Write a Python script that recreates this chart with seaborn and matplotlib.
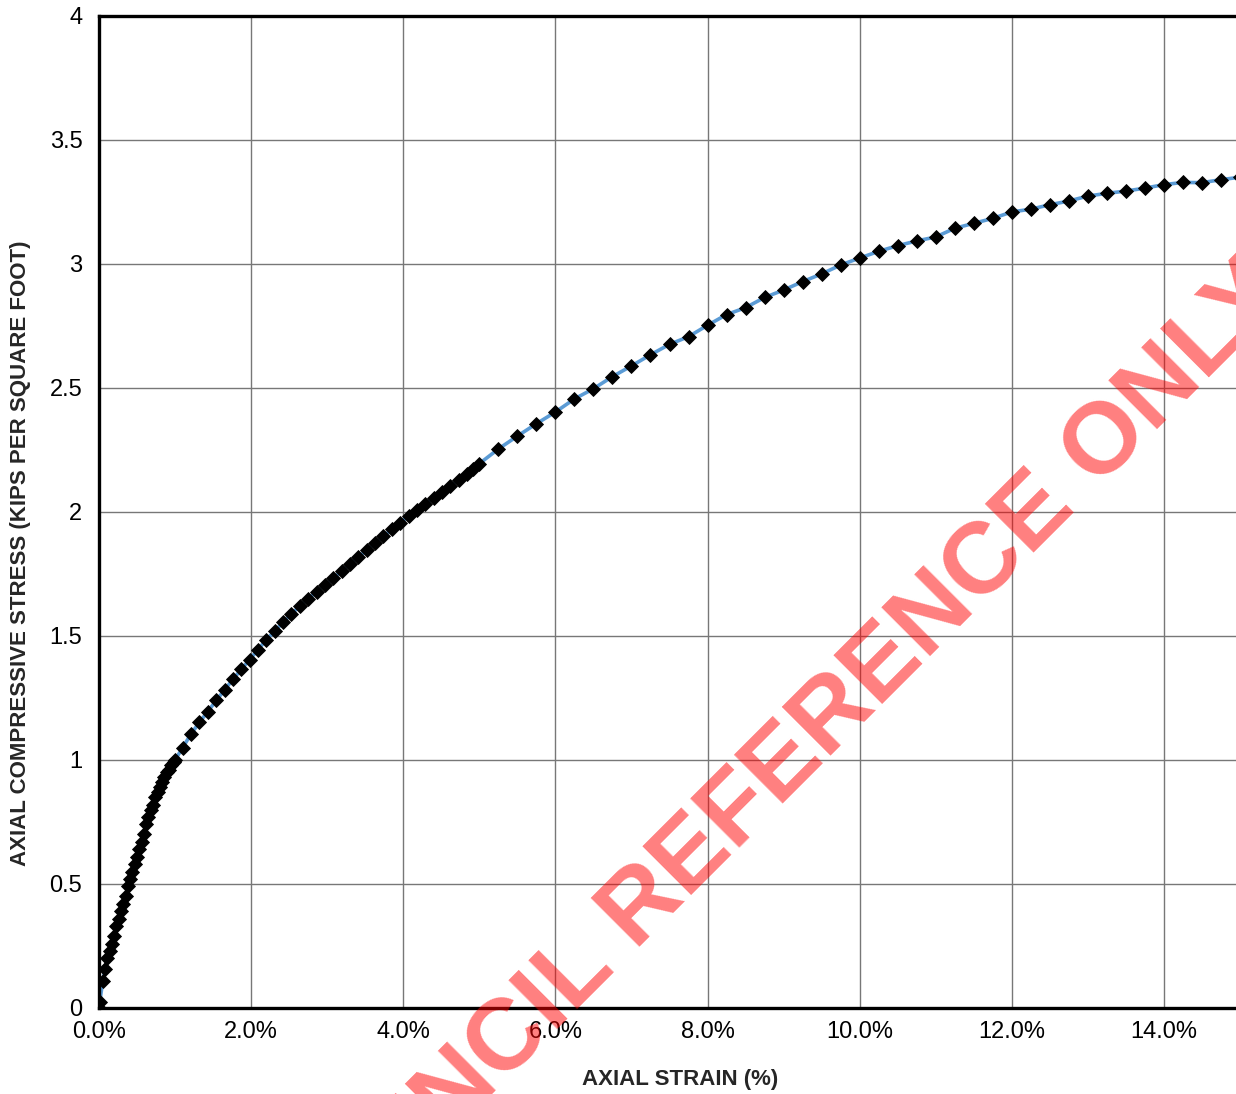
import numpy as np
import pandas as pd
import matplotlib
matplotlib.use("Agg")
import matplotlib.pyplot as plt
import seaborn as sns
from matplotlib.ticker import MultipleLocator, FuncFormatter

# =====================
# DATA
# =====================
strain_pct = [
    0.00, 0.01, 0.05, 0.08, 0.11, 0.14, 0.17, 0.20, 0.23, 0.26, 0.29, 0.32,
    0.35, 0.38, 0.41, 0.44, 0.47, 0.50, 0.53, 0.56, 0.59, 0.62, 0.65, 0.68,
    0.71, 0.74, 0.77, 0.80, 0.83, 0.86, 0.89, 0.92, 0.95, 0.98, 1.00,
    1.10, 1.21, 1.32, 1.43, 1.54, 1.65, 1.76, 1.87, 1.98, 2.09, 2.20, 2.31,
    2.42, 2.53, 2.64, 2.75, 2.86, 2.97, 3.08, 3.19, 3.30, 3.41, 3.52, 3.63,
    3.74, 3.85, 3.96, 4.07, 4.18, 4.29, 4.40, 4.51, 4.62, 4.73, 4.84, 4.92,
    5.00, 5.25, 5.50, 5.75, 6.00, 6.25, 6.50, 6.75, 7.00, 7.25, 7.50, 7.75,
    8.00, 8.25, 8.50, 8.75, 9.00, 9.25, 9.50, 9.75, 10.00, 10.25, 10.50,
    10.75, 11.00, 11.25, 11.50, 11.75, 12.00, 12.25, 12.50, 12.75, 13.00,
    13.25, 13.50, 13.75, 14.00, 14.25, 14.50, 14.75, 15.00,
]
stress_ksf = [
    0.000, 0.025, 0.110, 0.157, 0.200, 0.230, 0.260, 0.290, 0.330, 0.360,
    0.390, 0.420, 0.450, 0.490, 0.520, 0.550, 0.580, 0.610, 0.640, 0.670,
    0.700, 0.740, 0.770, 0.800, 0.820, 0.850, 0.870, 0.890, 0.910, 0.930,
    0.950, 0.960, 0.980, 0.990, 1.000,
    1.050, 1.105, 1.152, 1.195, 1.240, 1.282, 1.325, 1.365, 1.405, 1.445,
    1.485, 1.520, 1.555, 1.590, 1.620, 1.650, 1.678, 1.705, 1.733, 1.762,
    1.790, 1.818, 1.846, 1.874, 1.902, 1.930, 1.957, 1.983, 2.008, 2.033,
    2.057, 2.081, 2.105, 2.128, 2.152, 2.172, 2.195,
    2.254, 2.306, 2.356, 2.403, 2.456, 2.497, 2.546, 2.589, 2.634, 2.676,
    2.707, 2.753, 2.796, 2.824, 2.865, 2.895, 2.929, 2.960, 2.996, 3.024,
    3.051, 3.074, 3.093, 3.109, 3.144, 3.164, 3.184, 3.210, 3.221, 3.239,
    3.254, 3.274, 3.285, 3.294, 3.306, 3.320, 3.329, 3.328, 3.340, 3.350,
]

x_ticks = [0, 2, 4, 6, 8, 10, 12, 14]
y_ticks = [0, 0.5, 1, 1.5, 2, 2.5, 3, 3.5, 4]
y_tick_labels = ["0", "0.5", "1", "1.5", "2", "2.5", "3", "3.5", "4"]

df = pd.DataFrame({"strain": strain_pct, "stress": stress_ksf})

# =====================
# STYLE
# =====================
sns.set_style("white")
plt.rcParams["font.family"] = ["Liberation Sans", "DejaVu Sans"]

fig = plt.figure(figsize=(12.36, 10.94), dpi=100)
ax = fig.add_axes([99 / 1236, 86 / 1094, 1141 / 1236, 992 / 1094])

sns.lineplot(
    data=df, x="strain", y="stress", ax=ax,
    color="#5b9bd5", linewidth=2.6, estimator=None, sort=False,
    marker="D", markersize=7.0, markerfacecolor="black",
    markeredgecolor="black", markeredgewidth=0.6,
)

ax.set_xlim(0, 15)
ax.set_ylim(0, 4)
ax.set_xticks(x_ticks)
ax.xaxis.set_major_formatter(FuncFormatter(lambda v, p: f"{v:.1f}%"))
ax.xaxis.set_minor_locator(MultipleLocator(0.4))
ax.set_yticks(y_ticks)
ax.set_yticklabels(y_tick_labels)
ax.yaxis.set_minor_locator(MultipleLocator(0.1))

ax.grid(True, which="major", color="#777777", linewidth=1.0)
ax.set_axisbelow(True)

for side in ["left", "bottom", "top"]:
    ax.spines[side].set_color("black")
    ax.spines[side].set_linewidth(2.4)
ax.spines["right"].set_visible(False)

ax.tick_params(axis="y", which="major", direction="out", length=7, width=1,
               labelsize=17, pad=5, colors="black")
ax.tick_params(axis="x", which="major", direction="inout", length=12, width=1,
               labelsize=17, pad=3, colors="black")
ax.tick_params(which="minor", direction="in", length=5, width=0.8,
               colors="#333333")

ax.set_xlabel("AXIAL STRAIN (%)", fontsize=16, fontweight="bold")
ax.set_ylabel("AXIAL COMPRESSIVE STRESS (KIPS PER SQUARE FOOT)",
              fontsize=16, fontweight="bold")
ax.xaxis.set_label_coords(0.509, -0.0615)
ax.yaxis.set_label_coords(-0.0596, 0.458)

# watermark
fig.text(0.624, 0.289, "COUNCIL REFERENCE ONLY", fontsize=73,
         fontweight="bold", color="red", alpha=0.5, rotation=45,
         ha="center", va="center", rotation_mode="anchor", zorder=10)

fig.savefig("out.png", dpi=100)
plt.close(fig)
